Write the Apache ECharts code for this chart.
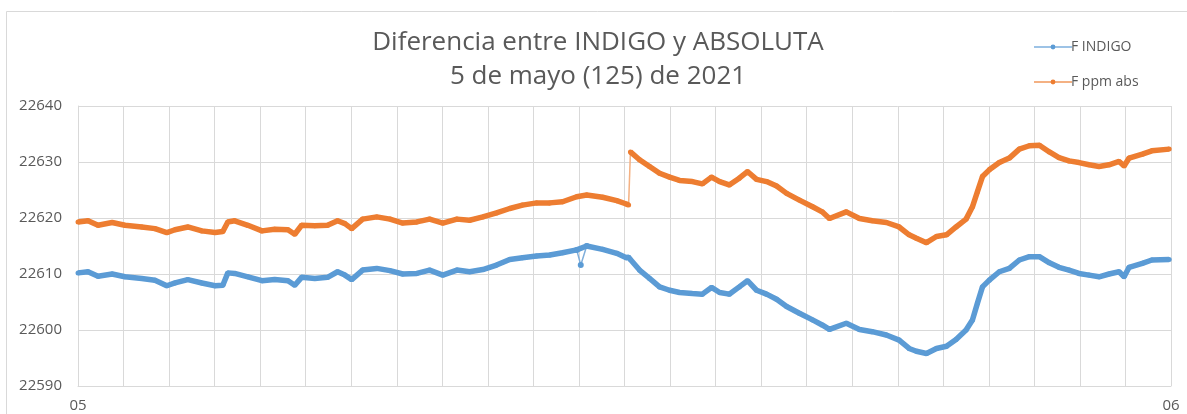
<!DOCTYPE html>
<html>
<head>
<meta charset="utf-8">
<script src="https://cdn.jsdelivr.net/npm/echarts@6/dist/echarts.min.js"></script>
<style>html,body{margin:0;padding:0;background:#fff;}#c{width:1187px;height:414px;}</style>
</head>
<body>
<div id="c"></div>
<script>
// hours after 05 00:00 (0..24)
const hours = [0,0.22,0.44,0.75,1.03,1.40,1.69,1.95,2.13,2.41,2.72,3.01,3.18,3.29,3.44,3.73,4.04,4.32,4.61,4.76,4.91,5.20,5.48,5.70,5.86,6.01,6.25,6.56,6.85,7.13,7.44,7.72,8.01,8.32,8.60,8.89,9.19,9.48,9.76,10.07,10.36,10.64,10.95,11.17,11.52,11.83,12.04,12.09,12.13,12.33,12.55,12.77,12.99,13.21,13.49,13.71,13.91,14.09,14.30,14.52,14.70,14.90,15.12,15.34,15.56,15.84,16.13,16.34,16.50,16.87,17.16,17.44,17.75,18.03,18.25,18.41,18.63,18.85,19.07,19.28,19.50,19.64,19.75,19.86,20.01,20.23,20.45,20.67,20.89,21.11,21.33,21.54,21.76,21.98,22.20,22.42,22.64,22.86,22.97,23.08,23.37,23.58,23.96];
const fPpmAbs = [22619.3,22619.5,22618.7,22619.2,22618.7,22618.4,22618.1,22617.4,22617.9,22618.4,22617.7,22617.4,22617.6,22619.3,22619.5,22618.7,22617.7,22618.0,22617.9,22617.1,22618.7,22618.6,22618.7,22619.5,22619.0,22618.1,22619.8,22620.2,22619.8,22619.1,22619.3,22619.8,22619.1,22619.8,22619.6,22620.2,22620.9,22621.7,22622.3,22622.7,22622.7,22622.9,22623.8,22624.1,22623.7,22623.1,22622.5,22622.3,22631.8,22630.4,22629.2,22628.0,22627.3,22626.7,22626.5,22626.1,22627.3,22626.5,22625.9,22627.1,22628.3,22626.9,22626.5,22625.7,22624.4,22623.2,22622.0,22621.1,22619.9,22621.1,22619.9,22619.5,22619.2,22618.4,22617.0,22616.4,22615.6,22616.7,22617.0,22618.4,22619.8,22622.0,22624.7,22627.4,22628.6,22629.9,22630.7,22632.3,22632.9,22633.0,22631.8,22630.8,22630.2,22629.9,22629.5,22629.2,22629.5,22630.1,22629.3,22630.7,22631.4,22632.0,22632.3];
const fIndigo = [22610.2,22610.4,22609.6,22610.0,22609.5,22609.2,22608.9,22607.9,22608.4,22609.0,22608.4,22607.9,22608.0,22610.2,22610.1,22609.5,22608.8,22609.0,22608.8,22608.0,22609.4,22609.2,22609.4,22610.4,22609.8,22609.0,22610.7,22611.0,22610.6,22610.0,22610.1,22610.7,22609.8,22610.7,22610.4,22610.8,22611.6,22612.6,22612.9,22613.2,22613.4,22613.8,22614.3,22615.0,22614.4,22613.7,22612.9,22613.0,22612.6,22610.7,22609.2,22607.7,22607.1,22606.7,22606.5,22606.4,22607.6,22606.7,22606.4,22607.7,22608.8,22607.1,22606.4,22605.5,22604.2,22603.0,22601.8,22600.9,22600.1,22601.2,22600.1,22599.7,22599.1,22598.2,22596.7,22596.2,22595.8,22596.7,22597.1,22598.3,22600.0,22601.8,22604.8,22607.7,22608.9,22610.4,22611.0,22612.5,22613.1,22613.1,22612.0,22611.2,22610.7,22610.1,22609.8,22609.5,22610.0,22610.4,22609.5,22611.2,22611.9,22612.5,22612.6];
const jumpIndex = 48;        // first F ppm abs point after the jump
const indigoSpikeHour = 11.04;
const indigoSpikeValue = 22611.6;
const yTicks = [22590,22600,22610,22620,22630,22640];
const xTickLabels = {0:'05', 24:'06'};

const blue = '#5B9BD5', orange = '#ED7D31';
const orangeData = [];
hours.forEach((h,i)=>{ if(i===jumpIndex) orangeData.push([ (hours[i-1]+h)/2, '-']); orangeData.push([h,fPpmAbs[i]]); });
const orangeJump = [[hours[jumpIndex-1],fPpmAbs[jumpIndex-1]],[hours[jumpIndex],fPpmAbs[jumpIndex]]];
const blueData = hours.map((h,i)=>[h,fIndigo[i]]);
const spikeIdx = hours.findIndex(h=>h>indigoSpikeHour);
const blueSpike = [[hours[spikeIdx-1],fIndigo[spikeIdx-1]],[indigoSpikeHour,indigoSpikeValue],[hours[spikeIdx],fIndigo[spikeIdx]]];

const chart = echarts.init(document.getElementById('c'));
const txt = '#595959';
chart.setOption({
  animation:false,
  backgroundColor:'#fff',
  graphic:[{type:'rect',shape:{x:6.5,y:11.5,width:1300,height:500},style:{fill:'none',stroke:'#D9D9D9',lineWidth:1},silent:true,z:-1}],
  title:{text:'Diferencia entre INDIGO y ABSOLUTA\n5 de mayo (125) de 2021',left:593,top:21,textAlign:'center',
    textStyle:{fontFamily:'Open Sans',fontWeight:'normal',fontSize:26,color:txt,lineHeight:34}},
  legend:{orient:'vertical',left:1028,top:35,itemGap:21,itemWidth:38,itemHeight:6,data:['F INDIGO','F ppm abs'],
    textStyle:{fontFamily:'Open Sans',fontSize:14,color:txt,padding:[0,0,0,-6]},
    lineStyle:{width:2,opacity:0.6}},
  grid:{left:78,right:16,top:106,bottom:28,containLabel:false},
  xAxis:{type:'value',min:0,max:24,interval:1,
    axisLine:{show:true,lineStyle:{color:'#D9D9D9',width:1}},axisTick:{show:false},
    splitLine:{show:true,lineStyle:{color:'#D9D9D9',width:1}},
    axisLabel:{fontFamily:'Open Sans',fontSize:15,color:txt,margin:12,formatter:v=>xTickLabels[v]||'',showMaxLabel:true,showMinLabel:true}},
  yAxis:{type:'value',min:yTicks[0],max:yTicks[yTicks.length-1],interval:10,
    axisLine:{show:true,lineStyle:{color:'#D9D9D9'}},axisTick:{show:false},
    splitLine:{show:true,lineStyle:{color:'#D9D9D9',width:1}},
    axisLabel:{fontFamily:'Open Sans',fontSize:15,color:txt,margin:16,formatter:v=>String(v)}},
  series:[
    {name:'F INDIGO',type:'line',data:blueData,color:blue,symbol:'circle',symbolSize:5,showSymbol:true,
      lineStyle:{width:5.5,color:blue},itemStyle:{color:blue},z:3},
    {name:'F ppm abs',type:'line',data:orangeData,color:orange,symbol:'circle',symbolSize:5,showSymbol:true,connectNulls:false,
      lineStyle:{width:5.5,color:orange},itemStyle:{color:orange},z:3},
    {name:'ppmJump',type:'line',data:orangeJump,symbol:'none',lineStyle:{width:1.5,color:'#F4B183'},z:2},
    {name:'indigoSpike',type:'line',data:blueSpike,symbol:'circle',symbolSize:6,showSymbol:true,
      lineStyle:{width:1.5,color:'#7FAEDB'},itemStyle:{color:blue},z:2}
  ]
});
</script>
</body>
</html>
